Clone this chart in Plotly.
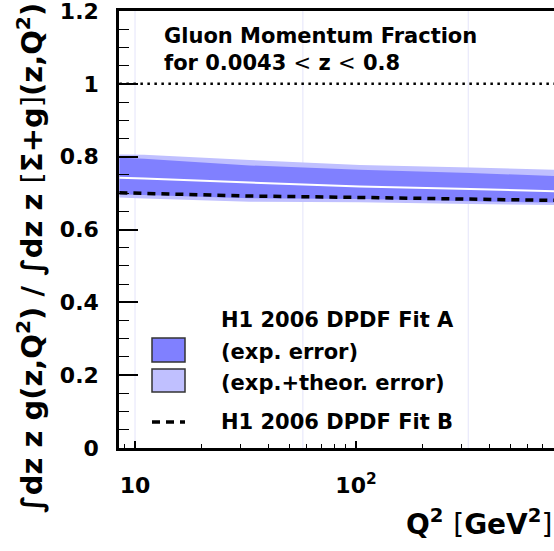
import plotly.graph_objects as go

# ---- data ----
q2 = [8.5, 11, 33, 104, 330, 575, 790]
light_hi = [0.806, 0.805, 0.791, 0.777, 0.770, 0.766, 0.764]
dark_hi = [0.797, 0.794, 0.776, 0.764, 0.755, 0.750, 0.747]
central = [0.742, 0.740, 0.729, 0.718, 0.711, 0.707, 0.705]
dark_lo = [0.697, 0.695, 0.686, 0.684, 0.677, 0.675, 0.674]
light_lo = [0.688, 0.685, 0.676, 0.675, 0.670, 0.668, 0.667]
fit_b = [0.701, 0.699, 0.692, 0.688, 0.683, 0.681, 0.680]
seam_q2 = [10, 57.5, 322]
ref_level = [1.0, 1.0]
x_tickvals = [10, 100]
x_ticktext = ["10", "10<sup>2</sup>"]
x_minor = [9, 20, 30, 40, 50, 60, 70, 80, 90, 200, 300, 400, 500, 600, 700]
y_tickvals = [0, 0.2, 0.4, 0.6, 0.8, 1.0, 1.2]
y_ticktext = ["0", "0.2", "0.4", "0.6", "0.8", "1", "1.2"]

DARK = "#8080ff"
LIGHT = "#c0c0ff"
FONT = "DejaVu Sans"

fig = go.Figure()

# faint seam lines
for s in seam_q2:
    fig.add_trace(go.Scatter(x=[s, s], y=[0, 1.2], mode="lines",
                             line=dict(color="#e4e4fa", width=1),
                             hoverinfo="skip", showlegend=False))

# light band
fig.add_trace(go.Scatter(x=q2, y=light_lo, mode="lines", line=dict(width=0, color=LIGHT),
                         showlegend=False, hoverinfo="skip"))
fig.add_trace(go.Scatter(x=q2, y=light_hi, mode="lines", line=dict(width=0, color=LIGHT),
                         fill="tonexty", fillcolor=LIGHT, showlegend=False, hoverinfo="skip"))
# dark band
fig.add_trace(go.Scatter(x=q2, y=dark_lo, mode="lines", line=dict(width=0, color=DARK),
                         showlegend=False, hoverinfo="skip"))
fig.add_trace(go.Scatter(x=q2, y=dark_hi, mode="lines", line=dict(width=0, color=DARK),
                         fill="tonexty", fillcolor=DARK, showlegend=False, hoverinfo="skip"))
# central value (white)
fig.add_trace(go.Scatter(x=q2, y=central, mode="lines", line=dict(width=2, color="white"),
                         showlegend=False, hoverinfo="skip"))
# Fit B dashed
fig.add_trace(go.Scatter(x=q2, y=fit_b, mode="lines",
                         line=dict(width=3.5, color="black", dash="8px,6px"),
                         showlegend=False, hoverinfo="skip"))
# dotted reference at 1
fig.add_trace(go.Scatter(x=[q2[0], q2[-1]], y=ref_level, mode="lines",
                         line=dict(width=2.5, color="black", dash="2.5px,4.5px"),
                         showlegend=False, hoverinfo="skip"))

L, T, B = 119, 11, 103
W, H = 554, 551
pw = W - L
ph = H - T - B


def px(xp):
    return (xp - L) / pw


def py(yp):
    return (H - B - yp) / ph


fig.update_layout(
    width=W, height=H,
    margin=dict(l=L, r=0, t=T, b=B, autoexpand=False),
    paper_bgcolor="white", plot_bgcolor="white",
    font=dict(family=FONT, size=20, color="black", weight="bold"),
    showlegend=False,
)

fig.update_xaxes(
    type="log", range=[0.9276, 2.896], automargin=False,
    showgrid=False, zeroline=False,
    showline=True, linecolor="black", linewidth=2.5, mirror=True,
    ticks="inside", ticklen=7, tickwidth=1.5, tickcolor="black",
    tickmode="array", tickvals=x_tickvals, ticktext=x_ticktext,
    ticklabelstandoff=16, ticklabeloverflow="allow",
    tickfont=dict(family=FONT, size=22, weight="bold"),
    minor=dict(ticks="inside", ticklen=4, tickwidth=1.2, tickcolor="black",
               tickvals=x_minor, showgrid=False),
)
fig.update_yaxes(
    range=[0, 1.2], automargin=False,
    showgrid=False, zeroline=False,
    showline=True, linecolor="black", linewidth=2.5, mirror=False,
    ticks="inside", ticklen=19, tickwidth=1.5, tickcolor="black",
    tickmode="array", tickvals=y_tickvals, ticktext=y_ticktext,
    ticklabelstandoff=13, ticklabeloverflow="allow",
    tickfont=dict(family=FONT, size=22, weight="bold"),
    minor=dict(ticks="inside", ticklen=10, tickwidth=1.2, tickcolor="black",
               dtick=0.05, tick0=0, showgrid=False),
)

NORM = "<span style='font-weight:normal'>"

# title text
fig.add_annotation(
    xref="paper", yref="paper", x=px(162), y=py(22), xanchor="left", yanchor="top",
    align="left", showarrow=False,
    text="Gluon Momentum Fraction<br>for 0.0043 " + NORM + "&lt;</span> z " + NORM + "&lt;</span> 0.8",
    font=dict(family=FONT, size=21, weight="bold"),
)

# y-axis title
fig.add_annotation(
    xref="paper", yref="paper", x=px(30), y=py(258), xanchor="center", yanchor="middle",
    textangle=-90, showarrow=False,
    text="∫dz z g(z,Q<sup>2</sup>) / ∫dz z " + NORM + "[</span>Σ+g" + NORM + "]</span>(z,Q<sup>2</sup>)",
    font=dict(family=FONT, size=29, weight="bold"),
)

# x-axis title
fig.add_annotation(
    xref="paper", yref="paper", x=1.0, y=py(522), xanchor="right", yanchor="middle",
    showarrow=False,
    text="Q<sup>2</sup> " + NORM + "[</span>GeV<sup>2</sup>" + NORM + "]</span>",
    font=dict(family=FONT, size=28, weight="bold"),
)

# custom legend
fig.add_shape(type="rect", xref="paper", yref="paper",
              x0=px(152), x1=px(185), y0=py(362), y1=py(338),
              fillcolor=DARK, line=dict(color="#333333", width=1.5))
fig.add_shape(type="rect", xref="paper", yref="paper",
              x0=px(152), x1=px(185), y0=py(392), y1=py(369),
              fillcolor=LIGHT, line=dict(color="#333333", width=1.5))
fig.add_shape(type="line", xref="paper", yref="paper",
              x0=px(152), x1=px(185), y0=py(422), y1=py(422),
              line=dict(color="black", width=3.5, dash="8px,6px"))

leg_font = dict(family=FONT, size=21, weight="bold")
for txt, yy in [("H1 2006 DPDF Fit A", 320), ("(exp. error)", 352),
                ("(exp.+theor. error)", 383), ("H1 2006 DPDF Fit B", 422)]:
    fig.add_annotation(xref="paper", yref="paper", x=px(219), y=py(yy),
                       xanchor="left", yanchor="middle", showarrow=False,
                       text=txt, font=leg_font)

fig.write_html("out.html", config={"displayModeBar": False},
               post_script="document.body.style.margin='0';document.body.style.overflow='hidden';")
